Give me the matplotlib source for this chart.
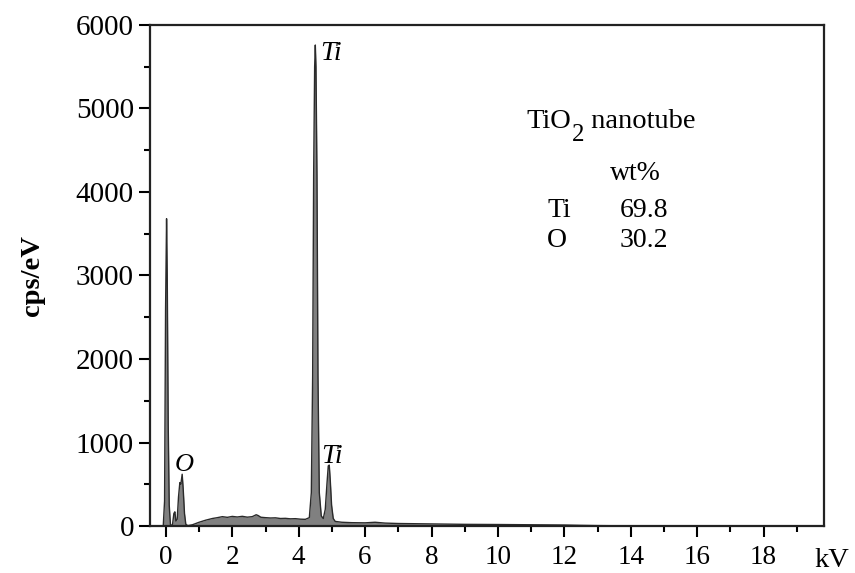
import matplotlib
matplotlib.use("Agg")
import matplotlib.pyplot as plt
from matplotlib.ticker import MultipleLocator

# EDS spectrum (energy in kV, counts in cps/eV)
energy = [-0.48, -0.08, -0.04, -0.01, 0.02, 0.04, 0.07, 0.10, 0.14,
          0.20, 0.24, 0.27, 0.30, 0.34, 0.38, 0.42, 0.45, 0.49, 0.52, 0.56, 0.60, 0.66,
          0.80, 1.00, 1.20, 1.40, 1.55, 1.70, 1.85, 2.00, 2.15, 2.30, 2.45, 2.60, 2.72,
          2.78, 2.86, 3.00, 3.15, 3.30, 3.45, 3.60, 3.75, 3.90, 4.05, 4.20, 4.32,
          4.38, 4.42, 4.45, 4.48, 4.50, 4.52, 4.55, 4.58, 4.62, 4.68,
          4.74, 4.80, 4.85, 4.89, 4.92, 4.95, 4.99, 5.04, 5.10,
          5.30, 5.60, 6.00, 6.30, 6.60, 7.00, 8.00, 9.00, 10.0, 11.0, 12.0, 12.5,
          13.0, 14.0, 15.0, 19.82]
counts = [0, 0, 300, 2600, 3680, 3000, 1200, 250, 0,
          20, 150, 170, 60, 80, 350, 520, 500, 620, 450, 150, 20, 5,
          15, 45, 70, 90, 100, 112, 104, 115, 108, 116, 106, 112, 135,
          125, 105, 100, 96, 98, 90, 92, 86, 88, 82, 80, 100,
          400, 1800, 4200, 5500, 5760, 5500, 4200, 1800, 400, 120,
          90, 200, 500, 720, 730, 550, 250, 90, 55,
          45, 40, 38, 45, 35, 30, 25, 20, 18, 15, 12, 8,
          5, 2, 0, 0]

wt_elements = ["Ti", "O"]
wt_values = ["69.8", "30.2"]
wt_rows_y = [3701, 3341]

plt.rcParams["font.family"] = "Liberation Serif"

fig = plt.figure(figsize=(8.55, 5.73), dpi=100)
ax = fig.add_axes([0.1754, 0.082, 0.7883, 0.8744])

ax.fill_between(energy, counts, 0, color="#808080", linewidth=0)
ax.plot(energy, counts, color="#2a2a2a", linewidth=1.0)

ax.set_xlim(-0.48, 19.82)
ax.set_ylim(0, 6000)
ax.xaxis.set_major_locator(MultipleLocator(2))
ax.xaxis.set_minor_locator(MultipleLocator(1))
ax.yaxis.set_major_locator(MultipleLocator(1000))
ax.yaxis.set_minor_locator(MultipleLocator(500))
ax.tick_params(which="major", length=8, width=1.5, direction="out")
ax.tick_params(which="minor", length=4, width=1.5, direction="out")
ax.tick_params(axis="x", labelsize=19.5, pad=5.5)
ax.tick_params(axis="y", labelsize=21, pad=3.5)
for s in ax.spines.values():
    s.set_linewidth(1.6)
    s.set_color("#222222")

ax.set_ylabel("cps/eV", fontsize=20.5, fontweight="bold")
ax.yaxis.set_label_coords(-0.156, 0.5)
ax.text(0.9866, -0.0818, "kV", transform=ax.transAxes, fontsize=20.5,
        ha="left", va="baseline")

# peak labels
ax.text(4.64, 5581, "Ti", fontsize=20, style="italic")
ax.text(4.69, 754, "Ti", fontsize=20, style="italic")
ax.text(0.27, 659, "O", fontsize=19, style="italic")

# composition table, subscript 2 drawn as its own lowered text
renderer = fig.canvas.get_renderer()
t1 = ax.text(10.87, 4766, "TiO", fontsize=20.5)
x1 = t1.get_window_extent(renderer).x1
x1_data = ax.transData.inverted().transform((x1, 0))[0]
t2 = ax.text(x1_data, 4766 - 160, "2", fontsize=18)
x2 = t2.get_window_extent(renderer).x1
x2_data = ax.transData.inverted().transform((x2, 0))[0]
ax.text(x2_data, 4766, " nanotube", fontsize=20.5)

ax.text(13.37, 4144, "wt%", fontsize=20)
for el, v, y in zip(wt_elements, wt_values, wt_rows_y):
    ax.text(11.48, y, el, fontsize=20)
    ax.text(13.67, y, v, fontsize=20)

fig.savefig("out.png", dpi=100)
